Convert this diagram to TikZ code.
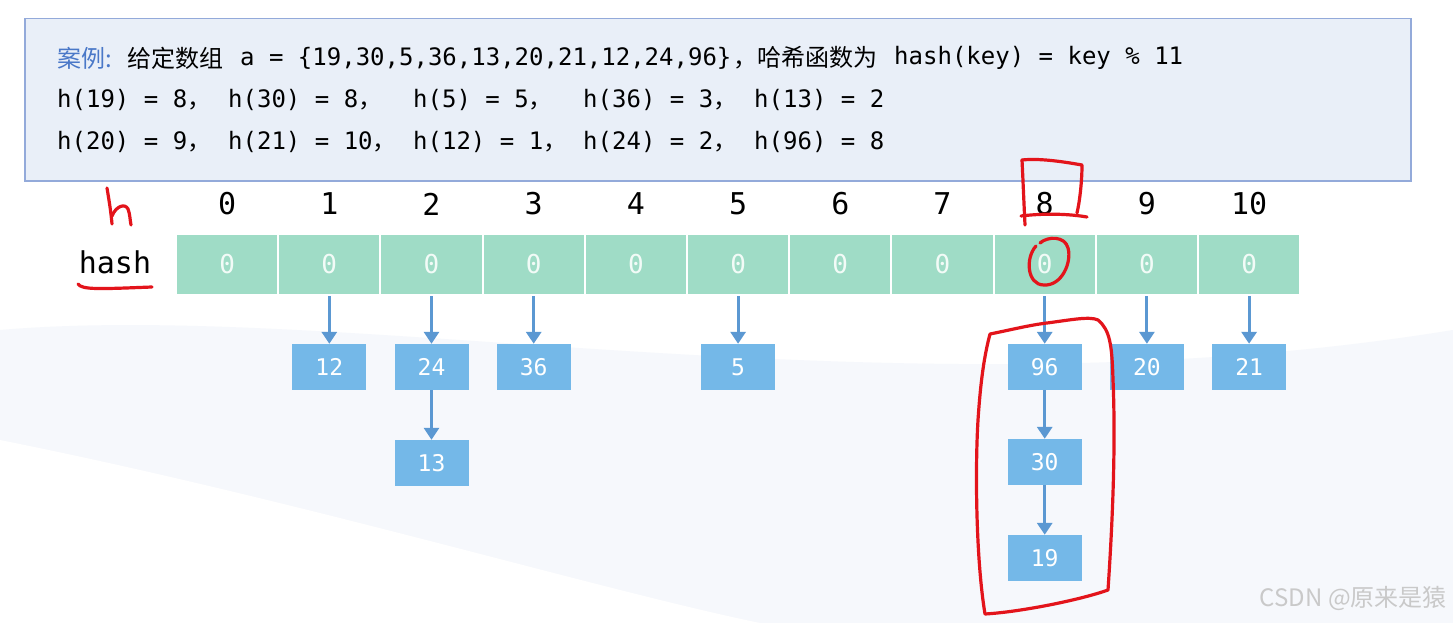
\documentclass[tikz,border=0pt]{standalone}
\usepackage{fontspec}
\setmonofont{DejaVu Sans Mono}
\newfontfamily\cjk{Noto Sans CJK SC}
\usetikzlibrary{arrows.meta}
\definecolor{cellgreen}{HTML}{9FDCC6}
\definecolor{celltext}{HTML}{F2FBF7}
\definecolor{boxblue}{HTML}{74B8E8}
\definecolor{arrowblue}{HTML}{5B98D2}
\definecolor{panelfill}{HTML}{E9EFF8}
\definecolor{panelline}{HTML}{93AADA}
\definecolor{labelblue}{HTML}{4A78C8}
\definecolor{penred}{HTML}{E3141B}
\definecolor{bgtint}{HTML}{F6F8FC}
\definecolor{wmgray}{HTML}{C9C9C9}
\tikzset{
  txt/.style={anchor=west, inner sep=0pt, font=\ttfamily\fontsize{24}{28}\selectfont},
  cjktxt/.style={anchor=west, inner sep=0pt, font=\cjk\fontsize{24}{28}\selectfont},
  idx/.style={inner sep=0pt, font=\ttfamily\fontsize{30}{34}\selectfont},
  cell/.style={draw=white, line width=2pt, fill=cellgreen, minimum width=102.2pt, minimum height=61pt, inner sep=0pt, text=celltext, font=\ttfamily\fontsize{26}{30}\selectfont},
  lbox/.style={fill=boxblue, minimum width=74pt, minimum height=46pt, inner sep=0pt, text=white, font=\ttfamily\fontsize{23}{27}\selectfont},
  arr/.style={draw=arrowblue, line width=3pt, -{Triangle[width=15pt,length=12pt]}},
  pen/.style={draw=penred, line width=3.2pt, line cap=round, line join=round},
}
\begin{document}
\begin{tikzpicture}[x=1pt,y=-1pt]
\useasboundingbox (0,0) rectangle (1453,623);
\fill[white] (0,0) rectangle (1453,623);
\fill[bgtint] (0,330) .. controls (350,300) and (900,420) .. (1453,330) -- (1453,623) -- (0,623) -- cycle;
\fill[white] (0,440) .. controls (300,500) and (600,590) .. (760,623) -- (0,623) -- cycle;

% top panel
\node[draw=panelline, line width=1.5pt, fill=panelfill, minimum width=1386pt, minimum height=162pt, inner sep=0pt, anchor=north west] (panel) at (24,18) {};
\node[cjktxt, text=labelblue] (lab) at (57,58) {案例:};
\node[cjktxt] (t1) at (127,58) {给定数组};
\node[txt] (t2) at (240,58) {a = \{19,30,5,36,13,20,21,12,24,96\}};
\node[cjktxt] (t3) at (733,58) {，哈希函数为};
\node[txt] (t4) at (894,58) {hash(key) = key \% 11};

\node[txt] (a1) at (57,100) {h(19) = 8{\cjk，}};
\node[txt] (a2) at (228,100) {h(30) = 8{\cjk，}};
\node[txt] (a3) at (413,100) {h(5) = 5{\cjk，}};
\node[txt] (a4) at (583,100) {h(36) = 3{\cjk，}};
\node[txt] (a5) at (754,100) {h(13) = 2};
\node[txt] (b1) at (57,142) {h(20) = 9{\cjk，}};
\node[txt] (b2) at (228,142) {h(21) = 10{\cjk，}};
\node[txt] (b3) at (413,142) {h(12) = 1{\cjk，}};
\node[txt] (b4) at (583,142) {h(24) = 2{\cjk，}};
\node[txt] (b5) at (754,142) {h(96) = 8};

% hash table
\node[idx] (hashlab) at (115,262) {hash};
\foreach \i in {0,...,10} {
  \node[idx] (i\i) at ({227.1+102.2*\i},204) {\i};
  \node[cell] (c\i) at ({227.1+102.2*\i},264.5) {0};
}

% chains
\node[lbox] (n12) at (c1 |- 0,367) {12};
\node[lbox] (n24) at (c2 |- 0,367) {24};
\node[lbox] (n13) at (c2 |- 0,463) {13};
\node[lbox] (n36) at (c3 |- 0,367) {36};
\node[lbox] (n5)  at (c5 |- 0,367) {5};
\node[lbox] (n96) at (c8 |- 0,367) {96};
\node[lbox] (n30) at (c8 |- 0,462) {30};
\node[lbox] (n19) at (c8 |- 0,558) {19};
\node[lbox] (n20) at (c9 |- 0,367) {20};
\node[lbox] (n21) at (c10 |- 0,367) {21};

\draw[arr] (c1.south) -- (n12.north);
\draw[arr] (c2.south) -- (n24.north);
\draw[arr] (n24.south) -- (n13.north);
\draw[arr] (c3.south) -- (n36.north);
\draw[arr] (c5.south) -- (n5.north);
\draw[arr] (c8.south) -- (n96.north);
\draw[arr] (n96.south) -- (n30.north);
\draw[arr] (n30.south) -- (n19.north);
\draw[arr] (c9.south) -- (n20.north);
\draw[arr] (c10.south) -- (n21.north);

% red hand annotations
\draw[pen] (107,188) .. controls (109,200) and (111,212) .. (112,224);
\draw[pen] (112,216) .. controls (116,206) and (125,203) .. (128,209) .. controls (130,214) and (130,220) .. (131,225);
\draw[pen] (78,284) .. controls (82,290) and (100,289) .. (152,287);
\draw[pen] (1022,160) .. controls (1040,158) and (1065,162) .. (1082,165) .. controls (1082,180) and (1080,200) .. (1077,213);
\draw[pen] (1021,216) .. controls (1045,213) and (1070,214) .. (1087,217);
\draw[pen] (1022,160) .. controls (1023,180) and (1024,205) .. (1025,225);
\draw[pen] (1036,246) .. controls (1025,258) and (1027,285) .. (1044,285) .. controls (1062,286) and (1072,262) .. (1068,248) .. controls (1065,236) and (1048,236) .. (1040,243);
\draw[pen] (990,334) .. controls (1010,330) and (1030,325) .. (1047,323) .. controls (1070,320) and (1090,316) .. (1098,320) .. controls (1110,330) and (1112,345) .. (1113,380) .. controls (1116,450) and (1112,530) .. (1108,590) .. controls (1080,600) and (1020,612) .. (985,614) .. controls (976,560) and (975,470) .. (978,420) .. controls (980,390) and (983,360) .. (990,334);

% watermark
\node[anchor=east, inner sep=0pt, text=wmgray, font=\cjk\fontsize{24}{28}\selectfont] (wm) at (1447,598) {CSDN @原来是猿};
\end{tikzpicture}
\end{document}
